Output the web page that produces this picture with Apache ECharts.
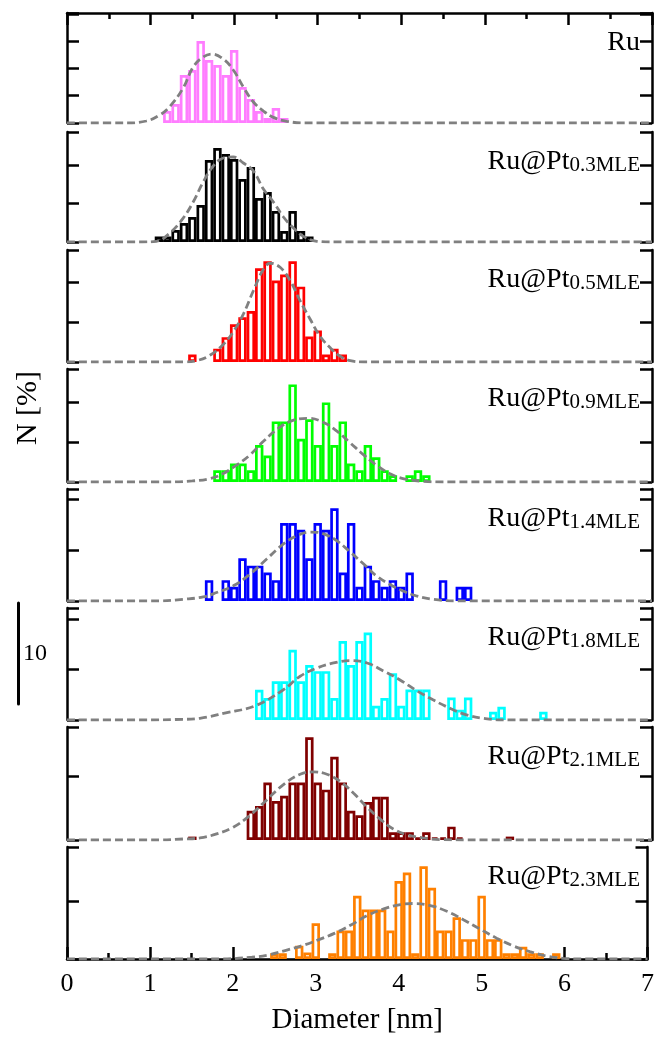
<!DOCTYPE html>
<html>
<head>
<meta charset="utf-8">
<script src="https://cdn.jsdelivr.net/npm/echarts@6/dist/echarts.min.js"></script>
<style>
  html, body { margin: 0; background: #fff; }
  #chart { width: 657px; height: 1040px; }
</style>
</head>
<body>
<div id="chart"></div>
<script>
// sample labels (main text + subscript) and colours, top to bottom
const sampleNames = ['Ru', 'Ru@Pt', 'Ru@Pt', 'Ru@Pt', 'Ru@Pt', 'Ru@Pt', 'Ru@Pt', 'Ru@Pt'];
const sampleSubs = ['', '0.3MLE', '0.5MLE', '0.9MLE', '1.4MLE', '1.8MLE', '2.1MLE', '2.3MLE'];
const sampleColors = ['#ff7dff', '#000000', '#ff0000', '#00ff00', '#0000ff', '#00ffff', '#800000', '#ff8000'];

// histograms: [diameter nm, N %]
const ruHist = [[1.2,1.2],[1.3,1.9],[1.4,4.8],[1.5,5.3],[1.6,8.2],[1.7,6.3],[1.8,5.8],[1.9,4.8],[2.0,7.3],[2.1,3.6],[2.2,2.4],[2.3,1.2],[2.4,0.5],[2.5,1.5],[2.6,0.5]];
const pt03Hist = [[1.1,0.56],[1.2,0.56],[1.3,1.2],[1.4,1.9],[1.5,2.5],[1.6,3.7],[1.7,8.2],[1.8,9.4],[1.9,8.8],[2.0,8.3],[2.1,6.3],[2.2,7.5],[2.3,4.4],[2.4,5.0],[2.5,3.1],[2.6,1.1],[2.7,3.1],[2.8,1.1],[2.9,0.56]];
const pt05Hist = [[1.5,0.73],[1.8,1.29],[1.9,2.44],[2.0,3.7],[2.1,4.4],[2.2,5.0],[2.3,9.2],[2.4,9.9],[2.5,8.0],[2.6,8.6],[2.7,9.9],[2.8,7.4],[2.9,2.5],[3.0,3.1],[3.1,0.73],[3.2,1.29],[3.3,0.73]];
const pt09Hist = [[1.8,1.15],[1.9,1.15],[2.0,1.8],[2.1,1.8],[2.2,1.15],[2.3,3.6],[2.4,2.57],[2.5,5.9],[2.6,5.9],[2.7,9.5],[2.8,4.2],[2.9,6.1],[3.0,3.6],[3.1,7.75],[3.2,3.6],[3.3,5.9],[3.4,1.8],[3.5,1.15],[3.6,3.6],[3.7,2.4],[3.8,1.15],[3.9,0.66],[4.1,0.66],[4.2,1.15],[4.3,0.66]];
const pt14Hist = [[1.7,2.05],[1.9,2.05],[2.0,1.39],[2.1,4.2],[2.2,3.47],[2.3,3.47],[2.4,2.8],[2.5,2.05],[2.6,7.65],[2.7,7.65],[2.8,7.0],[2.9,4.2],[3.0,7.65],[3.1,7.0],[3.2,9.1],[3.3,2.8],[3.4,7.65],[3.5,1.39],[3.6,3.47],[3.7,2.05],[3.8,1.39],[3.9,2.05],[4.0,1.39],[4.1,2.8],[4.5,2.05],[4.7,1.39],[4.8,1.39]];
const pt18Hist = [[2.3,2.97],[2.4,2.15],[2.5,3.8],[2.6,3.8],[2.7,6.9],[2.8,3.8],[2.9,5.4],[3.0,4.8],[3.1,4.8],[3.2,2.15],[3.3,7.75],[3.4,5.4],[3.5,7.75],[3.6,8.6],[3.7,1.39],[3.8,2.15],[3.9,4.6],[4.0,1.39],[4.1,3.0],[4.2,3.0],[4.3,3.0],[4.6,2.2],[4.7,1.0],[4.8,2.2],[5.1,0.8],[5.2,1.3],[5.7,0.8]];
const pt21Hist = [[1.5,0.33],[2.2,2.84],[2.3,3.3],[2.4,5.6],[2.5,3.8],[2.6,4.3],[2.7,5.6],[2.8,5.6],[2.9,10.0],[3.0,5.6],[3.1,4.9],[3.2,8.1],[3.3,5.6],[3.4,2.84],[3.5,2.4],[3.6,3.7],[3.7,4.2],[3.8,4.2],[3.9,0.76],[4.0,0.76],[4.1,0.76],[4.2,0.26],[4.3,0.76],[4.4,0.26],[4.5,0.26],[4.6,1.3],[4.7,0.26],[5.3,0.33]];
const pt23Hist = [[2.5,0.56],[2.6,0.56],[2.8,1.29],[2.9,0.63],[3.0,3.5],[3.2,0.56],[3.3,2.8],[3.4,2.8],[3.5,6.2],[3.6,4.85],[3.7,4.85],[3.8,4.85],[3.9,2.8],[4.0,7.65],[4.1,8.5],[4.2,0.56],[4.3,9.1],[4.4,7.0],[4.5,2.8],[4.6,2.8],[4.7,4.1],[4.8,1.95],[4.9,1.95],[5.0,6.2],[5.1,1.95],[5.2,1.95],[5.3,0.56],[5.4,0.56],[5.5,1.2],[5.6,0.56],[5.7,0.56],[5.9,0.56]];

// fitted distribution curves: [diameter nm, N %]
const ruFit = [[0,0],[0.7,0],[0.95,0.2],[1.11,0.8],[1.23,1.65],[1.39,3.5],[1.51,5.6],[1.63,6.6],[1.73,6.9],[1.87,6.4],[1.99,5.3],[2.11,3.6],[2.23,2.1],[2.35,1.2],[2.47,0.56],[2.63,0.17],[2.85,0],[7,0]];
const pt03Fit = [[0,0],[0.9,0],[1.07,0.07],[1.23,0.89],[1.39,2.38],[1.51,4.0],[1.63,6.0],[1.75,7.6],[1.87,8.4],[1.99,8.5],[2.11,7.9],[2.23,7.1],[2.35,5.3],[2.47,4.0],[2.59,2.5],[2.71,1.39],[2.83,0.56],[2.99,0.07],[3.2,0],[7,0]];
const pt05Fit = [[0,0],[1.39,0],[1.55,0.13],[1.71,0.66],[1.87,1.72],[1.99,2.97],[2.11,4.7],[2.23,7.0],[2.35,9.1],[2.43,9.7],[2.55,9.3],[2.67,8.0],[2.79,6.0],[2.91,4.2],[3.03,2.5],[3.15,1.39],[3.27,0.56],[3.39,0.13],[3.55,0],[7,0]];
const pt09Fit = [[0,0],[1.2,0],[1.5,0.1],[1.71,0.33],[1.87,0.83],[2.03,1.65],[2.19,2.64],[2.35,3.96],[2.51,5.1],[2.67,5.9],[2.89,6.2],[3.07,5.8],[3.23,4.95],[3.39,3.8],[3.55,2.64],[3.7,1.65],[3.86,0.83],[4.02,0.33],[4.26,0.07],[4.5,0],[7,0]];
const pt14Fit = [[0,0],[1.1,0],[1.39,0.17],[1.63,0.4],[1.79,0.83],[1.99,1.49],[2.19,2.64],[2.39,4.13],[2.59,5.6],[2.75,6.4],[2.91,6.77],[3.07,6.6],[3.23,5.9],[3.39,4.8],[3.55,3.63],[3.7,2.48],[3.86,1.65],[4.02,0.99],[4.18,0.5],[4.38,0.17],[4.66,0],[7,0]];
const pt18Fit = [[0,0],[1.0,0],[1.3,0.05],[1.59,0.17],[1.9,0.7],[2.25,1.39],[2.59,2.97],[2.79,4.3],[2.99,5.1],[3.19,5.6],[3.39,5.84],[3.59,5.6],[3.79,4.8],[3.98,3.96],[4.18,2.9],[4.38,1.98],[4.58,1.16],[4.78,0.5],[4.98,0.17],[5.2,0],[7,0]];
const pt21Fit = [[0,0],[1.1,0],[1.39,0.1],[1.59,0.2],[1.79,0.59],[1.99,1.25],[2.19,2.4],[2.39,3.9],[2.59,5.4],[2.79,6.4],[2.95,6.63],[3.11,6.4],[3.27,5.7],[3.43,4.55],[3.59,3.2],[3.74,2.08],[3.9,1.09],[4.06,0.53],[4.26,0.2],[4.5,0.03],[4.78,0],[7,0]];
const pt23Fit = [[0,0],[1.83,0],[2.23,0.17],[2.43,0.4],[2.63,0.83],[2.83,1.29],[3.03,1.88],[3.23,2.54],[3.43,3.37],[3.62,4.26],[3.82,4.92],[4.02,5.35],[4.18,5.45],[4.38,5.25],[4.58,4.69],[4.78,3.86],[4.98,2.94],[5.18,2.05],[5.38,1.29],[5.58,0.73],[5.78,0.3],[5.98,0.07],[6.22,0],[7,0]];

const hists = [ruHist, pt03Hist, pt05Hist, pt09Hist, pt14Hist, pt18Hist, pt21Hist, pt23Hist];
const fits = [ruFit, pt03Fit, pt05Fit, pt09Fit, pt14Fit, pt18Fit, pt21Fit, pt23Fit];
const xTicks = [0, 1, 2, 3, 4, 5, 6, 7];

// panel layout (px) and y tick step of each panel
const panelTop = [13, 132, 250, 369, 489, 608, 727, 847];
const panelHeight = [110, 110, 112, 113, 112, 112, 113, 112];
const yStep = [2.73, 3.86, 3.9, 3.9, 5.0, 4.95, 6.2, 5.7];

const serif = '"Liberation Serif", "DejaVu Serif", serif';
const black = { color: '#000', width: 2.5 };
const last = hists.length - 1;

let grids = [], xAxes = [], yAxes = [], series = [], titles = [];

hists.forEach((h, i) => {
    grids.push({ left: 67, right: 5, top: panelTop[i], height: panelHeight[i] });
    xAxes.push({
        gridIndex: i, type: 'value', min: xTicks[0], max: xTicks[xTicks.length - 1], interval: 1,
        axisLine: { show: i === last, onZero: false, lineStyle: black },
        axisTick: { show: i === last, inside: true, length: 12, lineStyle: black },
        minorTick: { show: i === last, splitNumber: 2, length: 6, lineStyle: black },
        axisLabel: { show: i === last, margin: 12, color: '#000', fontSize: 26, fontFamily: serif },
        splitLine: { show: false },
        name: i === last ? 'Diameter [nm]' : '',
        nameLocation: 'middle', nameGap: 47,
        nameTextStyle: { color: '#000', fontSize: 29, fontFamily: serif }
    });
    series.push({
        type: 'bar', xAxisIndex: i, yAxisIndex: i, data: h, barWidth: 8.4,
        itemStyle: { color: '#fff', borderColor: sampleColors[i], borderWidth: 2.7 }
    });
    series.push({
        type: 'line', xAxisIndex: i, yAxisIndex: i, data: fits[i], smooth: 0.4,
        symbol: 'none', z: 5,
        lineStyle: { color: '#808080', width: 2.8, type: [8, 4] }
    });
    titles.push({
        right: 12, top: panelTop[i] + 11,
        text: sampleSubs[i] ? '{a|' + sampleNames[i] + '}{s|' + sampleSubs[i] + '}' : '{a|' + sampleNames[i] + '}',
        textStyle: {
            rich: {
                a: { fontSize: 28, fontWeight: 'normal', fontFamily: serif, color: '#000', padding: [0, 0, 7, 0] },
                s: { fontSize: 21, fontWeight: 'normal', fontFamily: serif, color: '#000' }
            }
        }
    });
});

// left and right frame lines of every panel
hists.forEach((h, i) => {
    yAxes.push({
        gridIndex: i, type: 'value', min: 0, max: 11, interval: yStep[i],
        axisLine: { show: true, onZero: false, lineStyle: black },
        axisTick: { show: true, inside: true, length: 12, lineStyle: black },
        axisLabel: { show: false }, splitLine: { show: false }
    });
});
hists.forEach((h, i) => {
    yAxes.push({
        gridIndex: i, type: 'value', min: 0, max: 11, interval: yStep[i], position: 'right',
        axisLine: { show: true, onZero: false, lineStyle: black },
        axisTick: { show: true, inside: true, length: 12, lineStyle: black },
        axisLabel: { show: false }, splitLine: { show: false }
    });
});

// top axis of the first panel
xAxes.push({
    gridIndex: 0, type: 'value', min: 0, max: 7, interval: 1, position: 'top',
    axisLine: { show: true, onZero: false, lineStyle: black },
    axisTick: { show: true, inside: true, length: 12, lineStyle: black },
    minorTick: { show: true, splitNumber: 2, length: 6, lineStyle: black },
    axisLabel: { show: false }, splitLine: { show: false }
});

// scale bar: 10 %
grids.push({ left: 18, width: 1, top: 603, height: 101 });
xAxes.push({ gridIndex: 8, type: 'value', show: false });
yAxes.push({
    gridIndex: 8, type: 'value', min: 0, max: 10, position: 'left',
    axisLine: { show: true, onZero: false, lineStyle: { color: '#000', width: 3 } },
    axisTick: { show: false }, axisLabel: { show: false }, splitLine: { show: false },
    name: '10', nameLocation: 'middle', nameRotate: 0, nameGap: -5,
    nameTextStyle: { color: '#000', fontSize: 24, fontFamily: serif, align: 'left', padding: [0, 0, 8, 0] }
});

const chart = echarts.init(document.getElementById('chart'));
chart.setOption({
    backgroundColor: '#fff',
    animation: false,
    title: titles,
    grid: grids,
    xAxis: xAxes,
    yAxis: yAxes,
    series: series,
    graphic: [{
        type: 'text', x: 28, y: 408, rotation: Math.PI / 2,
        style: { text: 'N [%]', fill: '#000', font: '30px ' + serif, align: 'center', verticalAlign: 'middle' }
    }]
});
</script>
</body>
</html>
